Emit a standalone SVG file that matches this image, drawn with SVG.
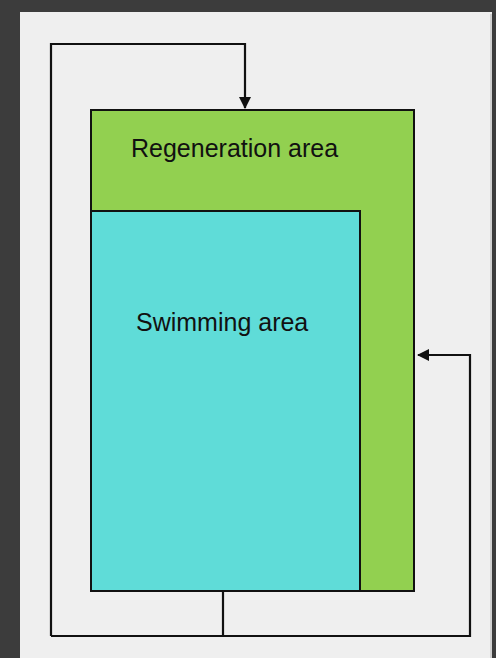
<svg xmlns="http://www.w3.org/2000/svg" width="496" height="658" viewBox="0 0 496 658">
<style>
.ln{fill:none;stroke:#111;stroke-width:2.2}
.lbl{font-family:"Liberation Sans",Arial,sans-serif;font-size:25px;fill:#111}
</style>
<defs>
<marker id="ah" markerWidth="12" markerHeight="12" refX="11" refY="6" orient="auto" markerUnits="userSpaceOnUse">
<path d="M0,0 L12,6 L0,12 z" fill="#111"/>
</marker>
</defs>
<rect x="0" y="0" width="496" height="658" fill="#3c3c3c"/>
<rect x="20" y="12" width="472" height="650" fill="#efefef"/>
<line x1="491" y1="14" x2="491" y2="658" stroke="#d0d0d0" stroke-width="2"/>
<g id="regeneration">
<rect x="91" y="110" width="323" height="481" fill="#92d050" stroke="#111" stroke-width="2"/>
<text class="lbl" x="131" y="157">Regeneration area</text>
</g>
<g id="swimming">
<rect x="91" y="211" width="269" height="380" fill="#5fdcd8" stroke="#111" stroke-width="2"/>
<text class="lbl" x="136" y="331">Swimming area</text>
</g>
<g id="connectors">
<polyline class="ln" points="223,591 223,636"/>
<polyline class="ln" points="51,636 51,44 245,44 245,108" marker-end="url(#ah)"/>
<polyline class="ln" points="51,636 470,636 470,355 418,355" marker-end="url(#ah)"/>
</g>
</svg>
